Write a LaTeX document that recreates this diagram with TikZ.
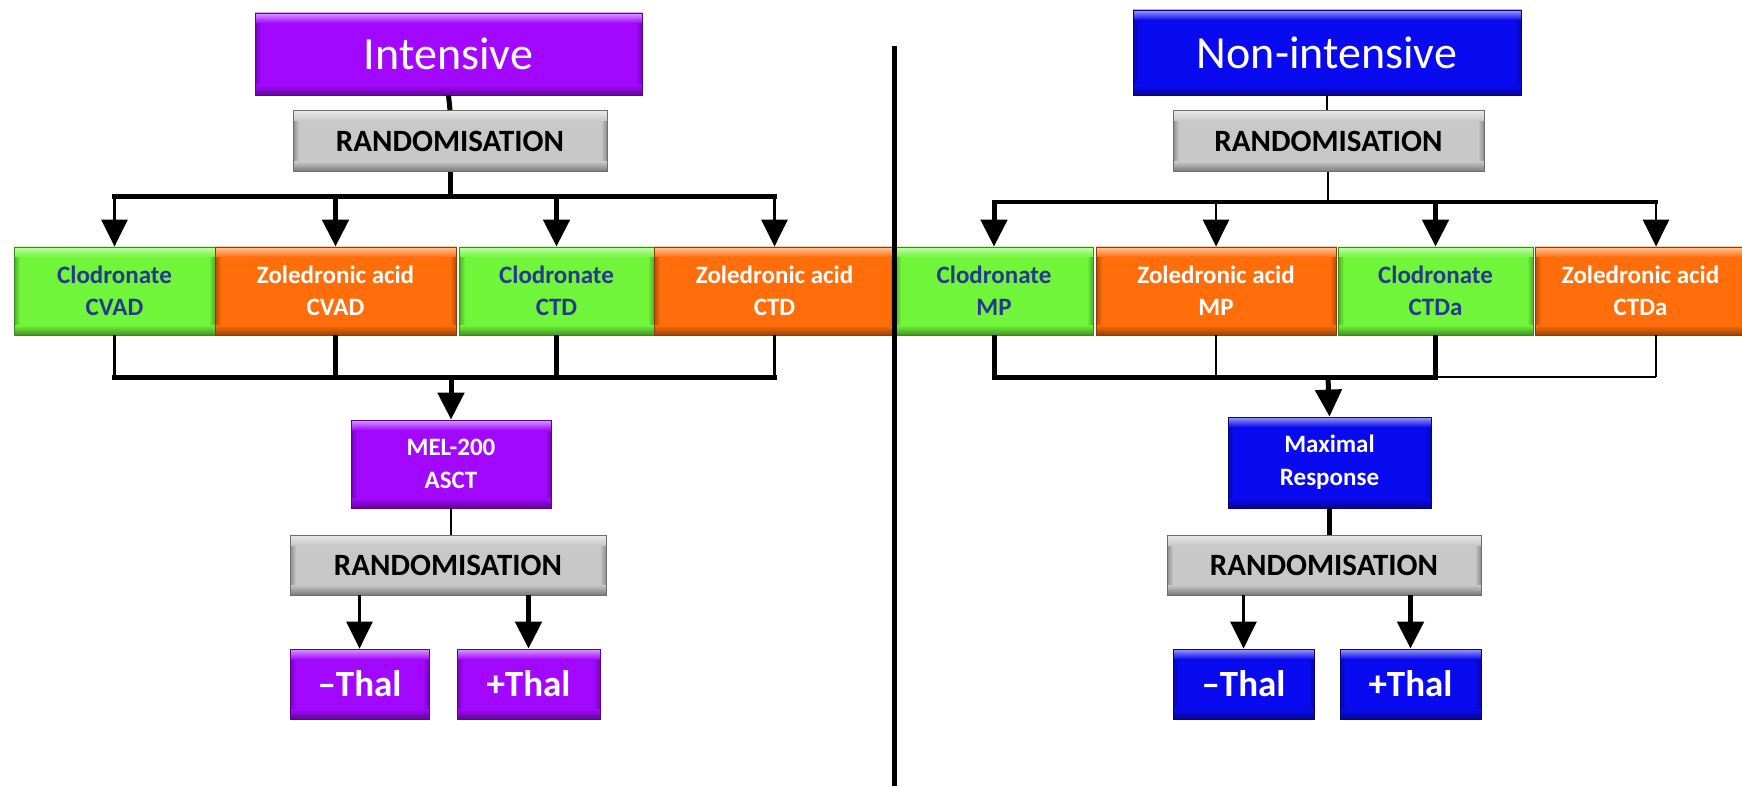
\documentclass[tikz,border=0pt]{standalone}
\usepackage{fontspec}
\setmainfont{Carlito}
\usetikzlibrary{arrows.meta,calc}
\definecolor{cpurple}{RGB}{162,8,255}
\definecolor{cblue}{RGB}{10,10,240}
\definecolor{cgreen}{RGB}{112,245,58}
\definecolor{corange}{RGB}{255,110,10}
\definecolor{cgray}{RGB}{200,200,200}
\definecolor{cnavy}{RGB}{38,58,140}
\tikzset{
  bev/.style={draw=#1!55!black, line width=0.8pt, fill=#1, inner sep=0pt, align=center,
    path picture={
      \path (path picture bounding box.north west) coordinate (pnw)
            (path picture bounding box.south east) coordinate (pse);
      \shade[left color=#1!70!black, right color=#1] (pnw) rectangle ($(pse-|pnw)+(6pt,0pt)$);
      \shade[right color=#1!70!black, left color=#1] (pse) rectangle ($(pnw-|pse)+(-6pt,0pt)$);
      \shade[top color=#1!40!white, bottom color=#1] (pnw) rectangle ($(pnw-|pse)+(0pt,-10pt)$);
      \shade[top color=#1, bottom color=#1!60!black] (pse) rectangle ($(pse-|pnw)+(0pt,10pt)$);
    }},
  title/.style={bev=#1, text=white, font=\fontsize{46}{55}\selectfont},
  rand/.style={bev=cgray, text=black, minimum width=314pt, minimum height=61pt,
    font=\bfseries\fontsize{31}{37}\selectfont},
  grn/.style={bev=cgreen, text=cnavy, minimum height=88pt, font=\bfseries\fontsize{25}{32}\selectfont},
  org/.style={bev=corange, text=white, minimum height=88pt, font=\bfseries\fontsize{25}{32}\selectfont},
  mid/.style={bev=#1, text=white, font=\bfseries\fontsize{25}{33}\selectfont},
  thal/.style={bev=#1, text=white, minimum height=70pt, font=\bfseries\fontsize{37}{44}\selectfont},
  thk/.style={line width=5pt},
  thn/.style={line width=2.8pt},
  arr/.style={-{Triangle[length=27pt,width=26pt]}}
}
\begin{document}
\begin{tikzpicture}[x=1pt,y=-1pt]
\useasboundingbox (0,0) rectangle (1742,786);
% divider
\coordinate (dtop) at (894,46);
\coordinate (dbot) at (894,786);
% ---------------- left side ----------------
\node[title=cpurple, minimum width=387pt, minimum height=82pt] (int) at (448.5,54) {Intensive};
\node[rand] (r1) at (450,141) {RANDOMISATION};
\node[grn, minimum width=201pt] (c1) at (114.5,291) {Clodronate\\CVAD};
\node[org, minimum width=241pt] (z1) at (335.5,291) {Zoledronic acid\\CVAD};
\node[grn, minimum width=195pt] (c2) at (556.5,291) {Clodronate\\CTD};
\node[org, minimum width=241pt] (z2) at (774.5,291) {Zoledronic acid\\CTD};
\node[mid=cpurple, minimum width=200pt, minimum height=88pt] (mel) at (451,464) {MEL-200\\ASCT};
\node[rand, minimum width=316pt, minimum height=60pt] (r2) at (448,565) {RANDOMISATION};
\node[thal=cpurple, minimum width=139pt] (tm1) at (359.5,684) {–Thal};
\node[thal=cpurple, minimum width=143pt] (tp1) at (528.5,684) {+Thal};
% ---------------- right side ----------------
\node[title=cblue, minimum width=388pt, minimum height=85pt] (non) at (1327,52.5) {Non-intensive};
\node[rand, minimum width=311pt] (r3) at (1328.5,141) {RANDOMISATION};
\node[grn, minimum width=198pt] (c3) at (994,291) {Clodronate\\MP};
\node[org, minimum width=240pt] (z3) at (1216,291) {Zoledronic acid\\MP};
\node[grn, minimum width=195pt] (c4) at (1435.5,291) {Clodronate\\CTDa};
\node[org, minimum width=211pt] (z4) at (1640.5,291) {Zoledronic acid\\CTDa};
\node[mid=cblue, minimum width=203pt, minimum height=91pt] (maxr) at (1329.5,462.5) {Maximal\\Response};
\node[rand, minimum width=314pt, minimum height=60pt] (r4) at (1324,565) {RANDOMISATION};
\node[thal=cblue, minimum width=141pt] (tm2) at (1243.5,684) {–Thal};
\node[thal=cblue, minimum width=141pt] (tp2) at (1410.5,684) {+Thal};
% divider line
\draw[line width=5pt] (dtop) -- (dbot);
% ---------------- left connectors ----------------
\coordinate (b1) at (450,197);
\coordinate (b2) at (451,377);
\draw[thk] (int.south) -- (r1.north);
\draw[thk] (r1.south) -- (b1);
\draw[thk, line cap=rect] (c1 |- b1) -- (z2 |- b1);
\draw[thn,arr] (c1 |- b1) -- (c1.north);
\draw[thk,arr] (z1 |- b1) -- (z1.north);
\draw[thk,arr] (c2 |- b1) -- (c2.north);
\draw[thn,arr] (z2 |- b1) -- (z2.north);
\draw[thn] (c1.south) -- (c1 |- b2);
\draw[thk] (z1.south) -- (z1 |- b2);
\draw[thk] (c2.south) -- (c2 |- b2);
\draw[thn] (z2.south) -- (z2 |- b2);
\draw[thk, line cap=rect] (c1 |- b2) -- (z2 |- b2);
\draw[thk,arr] (b2) -- (mel.north);
\draw[thn] (mel.south) -- (mel.south |- r2.north);
\draw[thn,arr] (r2.south -| tm1) -- (tm1.north);
\draw[thk,arr] (r2.south -| tp1) -- (tp1.north);
% ---------------- right connectors ----------------
\coordinate (b3) at (1328,202);
\coordinate (b4) at (1328,377);
\path ([xshift=15.5pt]z4.north) coordinate (z4n) ([xshift=15.5pt]z4.south) coordinate (z4s);
\draw[thn] (non.south) -- (non.south |- r3.north);
\draw[thn] (r3.south -| b3) -- (b3);
\draw[line width=3.6pt, line cap=rect] (c3 |- b3) -- (z4n |- b3);
\draw[thk,arr] (c3 |- b3) -- (c3.north);
\draw[thn,arr] (z3 |- b3) -- (z3.north);
\draw[thk,arr] (c4 |- b3) -- (c4.north);
\draw[thn,arr] (z4n |- b3) -- (z4n);
\draw[thk] (c3.south) -- (c3 |- b4);
\draw[thn] (z3.south) -- (z3 |- b4);
\draw[thk] (c4.south) -- (c4 |- b4);
\draw[thn] (z4s) -- (z4s |- b4);
\draw[thk, line cap=rect] (c3 |- b4) -- (c4 |- b4);
\draw[thn] (c4 |- b4) -- (z4s |- b4);
\draw[thk,arr] (b4) -- (maxr.north);
\draw[thk] (maxr.south) -- (maxr.south |- r4.north);
\draw[thn,arr] (r4.south -| tm2) -- (tm2.north);
\draw[thk,arr] (r4.south -| tp2) -- (tp2.north);
\end{tikzpicture}
\end{document}
